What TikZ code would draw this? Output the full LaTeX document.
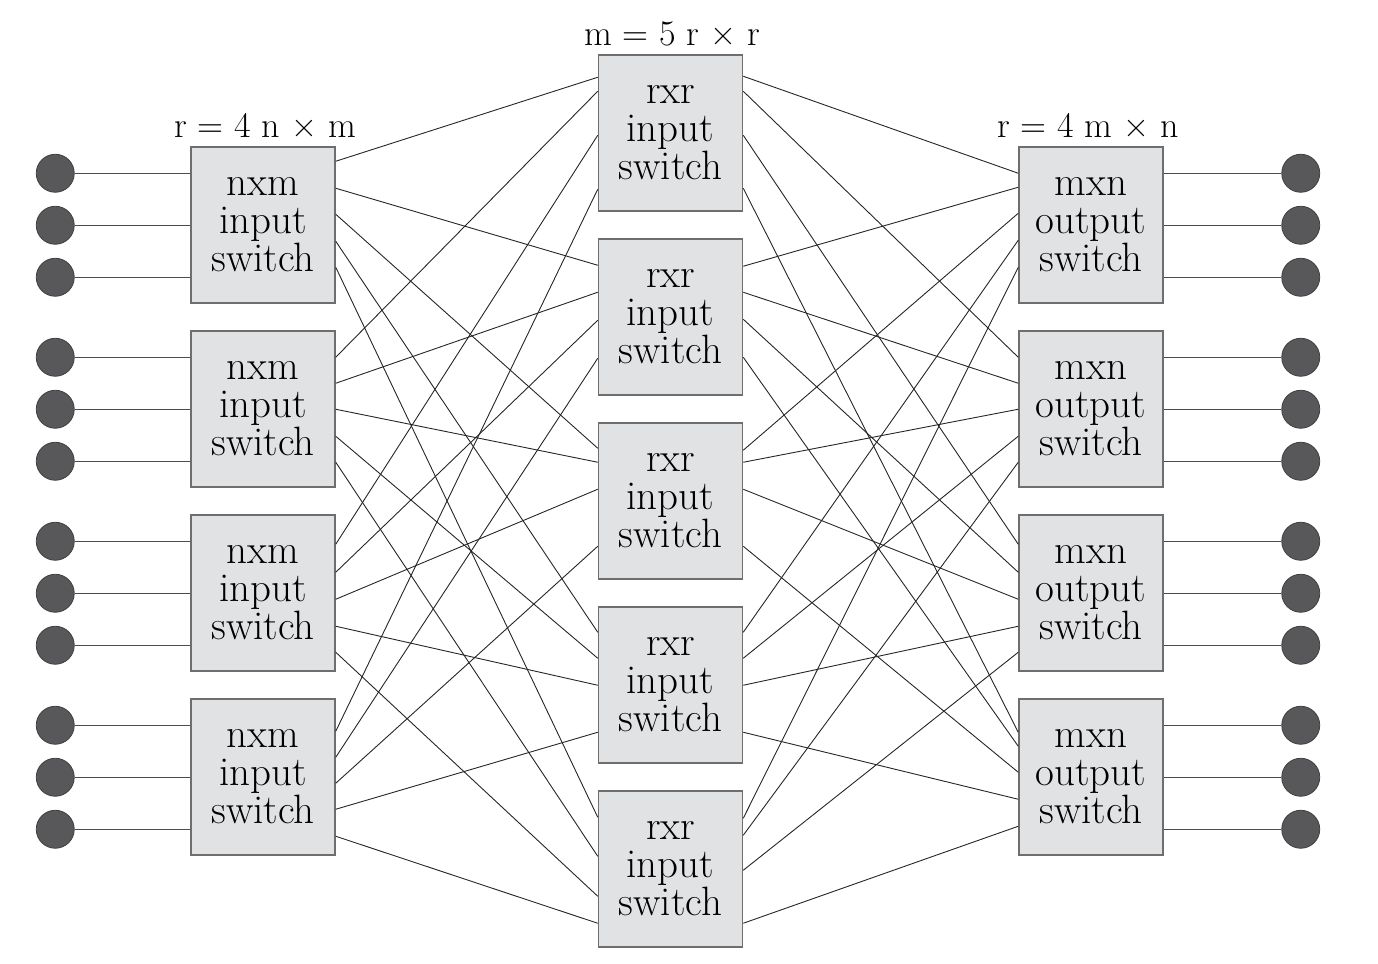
\documentclass[tikz,border=0pt]{standalone}
\usepackage{tikz}
\usetikzlibrary{positioning,calc}

\definecolor{boxfill}{HTML}{E1E2E3}
\definecolor{boxline}{HTML}{6E6E6E}
\definecolor{portfill}{HTML}{58585A}

\begin{document}
\begin{tikzpicture}[x=0.5pt,y=-0.5pt,node distance=92pt,on grid,
  switch/.style={draw=boxline,line width=0.75pt,fill=boxfill,minimum width=72pt,
    minimum height=78pt,inner sep=0pt,align=center,font=\fontsize{20.5}{19}\selectfont},
  port/.style={circle,draw=black!75,fill=portfill,minimum size=19pt,inner sep=0pt},
  wire/.style={line width=0.45pt,black!85},
  lead/.style={line width=0.55pt,black!70},
  title/.style={anchor=base,font=\fontsize{18}{20}\selectfont}]
  \useasboundingbox (0,0) rectangle (1378,964);

  % switches
  \node[switch]           (in1) at (263,225)    {nxm\\input\\switch};
  \node[switch]           (in2) [below=of in1]  {nxm\\input\\switch};
  \node[switch]           (in3) [below=of in2]  {nxm\\input\\switch};
  \node[switch]           (in4) [below=of in3]  {nxm\\input\\switch};
  \node[switch]           (mid1) at (670.5,133) {rxr\\input\\switch};
  \node[switch]           (mid2) [below=of mid1] {rxr\\input\\switch};
  \node[switch]           (mid3) [below=of mid2] {rxr\\input\\switch};
  \node[switch]           (mid4) [below=of mid3] {rxr\\input\\switch};
  \node[switch]           (mid5) [below=of mid4] {rxr\\input\\switch};
  \node[switch]           (out1) at (1091,225)  {mxn\\output\\switch};
  \node[switch]           (out2) [below=of out1] {mxn\\output\\switch};
  \node[switch]           (out3) [below=of out2] {mxn\\output\\switch};
  \node[switch]           (out4) [below=of out3] {mxn\\output\\switch};

  \node[title] (tin)  at (265,137)  {r = 4 n × m};
  \node[title] (tmid) at (672,45)   {m = 5 r × r};
  \node[title] (tout) at (1088,137) {r = 4 m × n};

  % ports on the switch sides
  \foreach \o [count=\j] in {15,42,68,95,121}  \coordinate (ip1\j) at ($(in1.north east)+(0,\o)$);
  \foreach \o [count=\j] in {27,53,79,106,132} \coordinate (ip2\j) at ($(in2.north east)+(0,\o)$);
  \foreach \o [count=\j] in {30,58,85,112,138} \coordinate (ip3\j) at ($(in3.north east)+(0,\o)$);
  \foreach \o [count=\j] in {33,59,85,111,138} \coordinate (ip4\j) at ($(in4.north east)+(0,\o)$);

  \foreach \o [count=\j] in {23,37,81,135}  \coordinate (mlp1\j) at ($(mid1.north west)+(0,\o)$);
  \foreach \o [count=\j] in {27,54,82,120}  \coordinate (mlp2\j) at ($(mid2.north west)+(0,\o)$);
  \foreach \o [count=\j] in {26,40,67,124}  \coordinate (mlp3\j) at ($(mid3.north west)+(0,\o)$);
  \foreach \o [count=\j] in {26,52,79,126}  \coordinate (mlp4\j) at ($(mid4.north west)+(0,\o)$);
  \foreach \o [count=\j] in {27,66,106,133} \coordinate (mlp5\j) at ($(mid5.north west)+(0,\o)$);

  \foreach \o [count=\j] in {22,37,81,134}  \coordinate (mrp1\j) at ($(mid1.north east)+(0,\o)$);
  \foreach \o [count=\j] in {28,54,81,119}  \coordinate (mrp2\j) at ($(mid2.north east)+(0,\o)$);
  \foreach \o [count=\j] in {28,40,67,124}  \coordinate (mrp3\j) at ($(mid3.north east)+(0,\o)$);
  \foreach \o [count=\j] in {26,52,79,126}  \coordinate (mrp4\j) at ($(mid4.north east)+(0,\o)$);
  \foreach \o [count=\j] in {28,45,80,133}  \coordinate (mrp5\j) at ($(mid5.north east)+(0,\o)$);

  \foreach \o [count=\j] in {27,41,67,94,121}  \coordinate (op1\j) at ($(out1.north west)+(0,\o)$);
  \foreach \o [count=\j] in {27,53,79,106,132} \coordinate (op2\j) at ($(out2.north west)+(0,\o)$);
  \foreach \o [count=\j] in {30,58,85,112,138} \coordinate (op3\j) at ($(out3.north west)+(0,\o)$);
  \foreach \o [count=\j] in {34,48,74,101,128}  \coordinate (op4\j) at ($(out4.north west)+(0,\o)$);

  % crossbar wiring
  \foreach \i in {1,...,4} \foreach \j in {1,...,5} \draw[wire] (ip\i\j) -- (mlp\j\i);
  \foreach \j in {1,...,5} \foreach \k in {1,...,4} \draw[wire] (mrp\j\k) -- (op\k\j);

  % terminals
  \foreach \b in {1,...,4} \foreach \o [count=\k] in {27,79,131} {
    \node[port] (li\b\k) at ($(in\b.north west)+(-135,\o)$) {};
    \draw[lead] (li\b\k) -- (li\b\k -| in\b.west);
    \node[port] (ro\b\k) at ($(out\b.north east)+(137,\o)$) {};
    \draw[lead] (ro\b\k) -- (ro\b\k -| out\b.east);
  }
\end{tikzpicture}
\end{document}
